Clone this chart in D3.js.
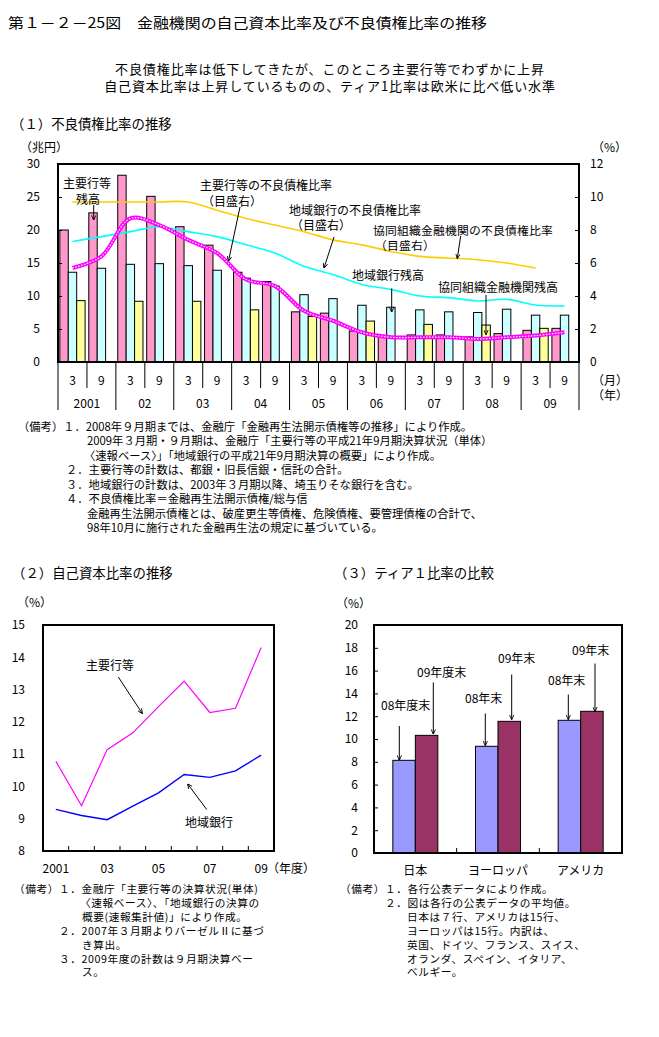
<!DOCTYPE html>
<html><head><meta charset="utf-8">
<script src="https://cdn.jsdelivr.net/npm/d3@7"></script>
<style>
body{margin:0;background:#fff;}
svg{display:block;}
text{font-family:"Noto Sans CJK JP","Noto Sans",sans-serif;fill:#000;}
</style></head><body>
<svg id="c" width="659" height="1037"></svg>
<script>
// ---------- DATA ----------
// (1) NPL
const periods = ['01/3','01/9','02/3','02/9','03/3','03/9','04/3','04/9','05/3','05/9','06/3','06/9','07/3','07/9','08/3','08/9','09/3','09/9'];
const periodMonths = ['3','9','3','9','3','9','3','9','3','9','3','9','3','9','3','9','3','9'];
const periodYears = ['2001','02','03','04','05','06','07','08','09'];
const majorBalance = [20.0,22.6,28.3,25.1,20.5,17.7,13.6,12.2,7.6,7.4,4.7,3.9,4.1,4.1,3.8,4.3,4.8,5.1];
const regionalBalance = [13.6,14.2,14.8,14.9,14.6,13.9,12.7,11.5,10.2,9.6,8.6,8.3,7.9,7.6,7.5,8.0,7.1,7.1];
const coopBalance = [9.3,0,9.2,0,9.2,0,7.9,0,6.9,0,6.2,0,5.7,0,5.6,0,5.1,0];
const majorRatio = [5.7,6.4,8.7,8.3,7.4,6.6,5.0,4.6,3.1,2.5,1.8,1.5,1.5,1.5,1.4,1.5,1.6,1.8];
const regionalRatio = [7.3,7.6,7.9,8.2,7.9,7.6,7.1,6.6,5.8,5.3,4.7,4.4,4.0,3.9,3.7,3.8,3.45,3.4];
const coopRatio = [9.7,9.7,9.7,9.7,9.7,9.2,8.7,8.3,7.9,7.4,7.1,6.7,6.4,6.3,6.2,6.0,5.7,null];
const leftTicks = [0,5,10,15,20,25,30];
const rightTicks = [0,2,4,6,8,10,12];

// (2) capital ratio
const capYears = ['2001','2002','2003','2004','2005','2006','2007','2008','2009'];
const capYearLabels = ['2001','','03','','05','','07','','09'];
const capMajor = [10.78,9.40,11.14,11.66,12.47,13.26,12.29,12.42,14.30];
const capRegional = [9.29,9.10,8.97,9.39,9.80,10.37,10.28,10.48,10.97];
const capTicks = [8,9,10,11,12,13,14,15];

// (3) tier 1
const regions = ['日本','ヨーロッパ','アメリカ'];
const tier1_08 = [8.13,9.36,11.64];
const tier1_09 = [10.32,11.55,12.43];
const tierTicks = [0,2,4,6,8,10,12,14,16,18,20];

// ---------- DRAW ----------
const svg = d3.select('#c');
const defs = svg.append('defs');
defs.append('marker').attr('id','arr').attr('viewBox','0 0 8 8').attr('refX',7.5).attr('refY',4)
  .attr('markerWidth',5).attr('markerHeight',5).attr('orient','auto').attr('markerUnits','userSpaceOnUse')
  .append('path').attr('d','M0,0.5 L8,4 L0,7.5').attr('fill','none').attr('stroke','#000').attr('stroke-width',1.4);

function txt(x,y,s,size,anchor,len){
  const t = svg.append('text').attr('x',x).attr('y',y).attr('font-size',size).attr('text-anchor',anchor||'start').text(s);
  if(len) t.attr('textLength',len).attr('lengthAdjust','spacingAndGlyphs');
  return t;
}
// multi-line block: lines = [[x, string], ...]
function block(y0,lh,lines,size,anchor,ls){
  const t = svg.append('text').attr('y',y0).attr('font-size',size).attr('text-anchor',anchor||'start');
  if(ls) t.attr('letter-spacing',ls);
  lines.forEach((l,i)=>{
    t.append('tspan').attr('x',l[0]).attr('y',y0+i*lh).text(l[1]);
  });
  return t;
}
function arrow(x1,y1,x2,y2){
  svg.append('line').attr('x1',x1).attr('y1',y1).attr('x2',x2).attr('y2',y2)
    .attr('stroke','#000').attr('stroke-width',1).attr('marker-end','url(#arr)');
}

// Titles
txt(8,28,'第１－２－25図　金融機関の自己資本比率及び不良債権比率の推移',14,'start',479);
block(74,17,[[330,'不良債権比率は低下してきたが、このところ主要行等でわずかに上昇'],[330,'自己資本比率は上昇しているものの、ティア1比率は欧米に比べ低い水準']],13,'middle',0.9);
txt(11,129,'（１）不良債権比率の推移',13.4);

// ===== Chart 1 =====
const X0=58, X1=579, YT=164, YB=362;
const xP = d3.scaleBand().domain(periods).range([X0,X1]);
const bw = xP.bandwidth();
const xS = d3.scaleBand().domain(['major','regional','coop']).range([0,bw]).paddingOuter(0.22);
const yL = d3.scaleLinear().domain([0,30]).range([YB,YT]);
const yR = d3.scaleLinear().domain([0,12]).range([YB,YT]);

const g1 = svg.append('g');
const barSeries = [
  {key:'major', data:majorBalance, color:'#FF99CC'},
  {key:'regional', data:regionalBalance, color:'#CCFFFF'},
  {key:'coop', data:coopBalance, color:'#FFFF99'}
];
barSeries.forEach(s=>{
  g1.selectAll(null).data(s.data).enter().append('rect')
    .attr('x',(d,i)=>xP(periods[i])+xS(s.key))
    .attr('y',d=>yL(d))
    .attr('width',xS.bandwidth())
    .attr('height',d=>yL(0)-yL(d))
    .attr('fill',s.color).attr('stroke','#000').attr('stroke-width',1);
});

const lineR = d3.line().defined(d=>d!=null)
  .x((d,i)=>xP(periods[i])+bw/2).y(d=>yR(d)).curve(d3.curveCatmullRom.alpha(0.5));
g1.append('path').attr('d',lineR(coopRatio)).attr('fill','none').attr('stroke','#FFCC00').attr('stroke-width',1.6);
g1.append('path').attr('d',lineR(regionalRatio)).attr('fill','none').attr('stroke','#00FFFF').attr('stroke-width',1.6);
g1.append('path').attr('d',lineR(majorRatio)).attr('fill','none').attr('stroke','#FF00FF').attr('stroke-width',4);
g1.append('path').attr('d',lineR(majorRatio)).attr('fill','none').attr('stroke','#fff').attr('stroke-width',1.2).attr('stroke-dasharray','1.5 1.5');

// axes
const axL = svg.append('g').attr('transform',`translate(${X0},0)`)
  .call(d3.axisLeft(yL).tickValues(leftTicks).tickSize(-4).tickPadding(18));
const axR = svg.append('g').attr('transform',`translate(${X1},0)`)
  .call(d3.axisRight(yR).tickValues(rightTicks).tickSize(-4).tickPadding(11));
[axL,axR].forEach(a=>{
  a.select('.domain').remove();
  a.selectAll('text').attr('font-size',12).attr('font-family','Noto Sans CJK JP').attr('fill','#000');
  a.selectAll('line').attr('stroke','#000');
});
svg.append('rect').attr('x',X0).attr('y',YT).attr('width',X1-X0).attr('height',YB-YT)
  .attr('fill','none').attr('stroke','#000').attr('stroke-width',2);

// category axis
for(let i=0;i<=periods.length;i++){
  const x = i<periods.length ? xP(periods[i]) : X1;
  svg.append('line').attr('x1',x).attr('x2',x).attr('y1',YB).attr('y2',i%2===0?410:388)
    .attr('stroke','#000').attr('stroke-width',1);
}
periodMonths.forEach((m,i)=>txt(xP(periods[i])+bw/2,385,m,12,'middle'));
periodYears.forEach((y,k)=>txt(xP(periods[2*k])+bw,408,y,12,'middle'));
txt(20,152,'（兆円）',12);
txt(592,152,'（%）',12);
block(385,15,[[592,'（月）'],[592,'（年）']],12);

// annotations chart 1
block(188,16,[[87,'主要行等'],[88,'残高']],12,'middle');
arrow(93.7,205,93.7,220);
block(190,16,[[200,'主要行等の不良債権比率'],[202,'（目盛右）']],12);
arrow(240,207,228.5,261);
block(215,15,[[289,'地域銀行の不良債権比率'],[291,'（目盛右）']],12);
arrow(334,237,324,268);
block(234.5,15,[[373,'協同組織金融機関の不良債権比率'],[375,'（目盛右）']],11.8,'start',0.2);
arrow(460.7,236,457.3,258.5);
txt(352,280,'地域銀行残高',12);
arrow(391.7,288.5,391.7,312);
txt(438,291.5,'協同組織金融機関残高',12);
arrow(486,295,486,334.5);

// notes 1
block(431,14.45,[
  [18,'（備考）１．2008年９月期までは、金融庁「金融再生法開示債権等の推移」により作成。'],
  [87,'2009年３月期・９月期は、金融庁「主要行等の平成21年9月期決算状況（単体）'],
  [84,'〈速報ベース〉」「地域銀行の平成21年9月期決算の概要」により作成。'],
  [66,'２．主要行等の計数は、都銀・旧長信銀・信託の合計。'],
  [66,'３．地域銀行の計数は、2003年３月期以降、埼玉りそな銀行を含む。'],
  [66,'４．不良債権比率＝金融再生法開示債権/総与信'],
  [87,'金融再生法開示債権とは、破産更生等債権、危険債権、要管理債権の合計で、'],
  [87,'98年10月に施行された金融再生法の規定に基づいている。']
],11.3);

// ===== Chart 2 =====
txt(12,578,'（２）自己資本比率の推移',13.4);
txt(17,607,'（%）',12);
const BX0=43, BX1=274, BYT=625, BYB=851;
const xB = d3.scaleBand().domain(capYears).range([BX0,BX1]);
const yB = d3.scaleLinear().domain([8,15]).range([BYB,BYT]);
const axB = svg.append('g').attr('transform',`translate(${BX0},0)`)
  .call(d3.axisLeft(yB).tickValues(capTicks).tickFormat(d3.format('d')).tickSize(0).tickPadding(18));
axB.select('.domain').remove();
axB.selectAll('text').attr('font-size',12).attr('font-family','Noto Sans CJK JP').attr('fill','#000');
capYears.forEach((y,i)=>{
  if(i>0) svg.append('line').attr('x1',xB(y)).attr('x2',xB(y)).attr('y1',BYB).attr('y2',BYB-5).attr('stroke','#000');
  if(capYearLabels[i]) txt(xB(y)+xB.bandwidth()/2,873,capYearLabels[i],12,'middle');
});
txt(267,873,'（年度）',12);
const lineB = d3.line().x((d,i)=>xB(capYears[i])+xB.bandwidth()/2).y(d=>yB(d));
svg.append('path').attr('d',lineB(capMajor)).attr('fill','none').attr('stroke','#FF00FF').attr('stroke-width',1.2);
svg.append('path').attr('d',lineB(capRegional)).attr('fill','none').attr('stroke','#0000FF').attr('stroke-width',1.4);
svg.append('rect').attr('x',BX0).attr('y',BYT).attr('width',BX1-BX0).attr('height',BYB-BYT)
  .attr('fill','none').attr('stroke','#000').attr('stroke-width',2);
txt(86,670,'主要行等',12);
arrow(118.3,677,142.3,713.5);
txt(185,827,'地域銀行',12);
arrow(206.7,809.5,187.7,784);

// notes 2
block(893,13.9,[
  [14,'（備考）１．金融庁「主要行等の決算状況(単体)'],
  [80,'〈速報ベース〉、「地域銀行の決算の'],
  [82,'概要(速報集計値)」により作成。'],
  [59,'２．2007年３月期よりバーゼルⅡに基づ'],
  [82,'き算出。'],
  [59,'３．2009年度の計数は９月期決算ベー'],
  [82,'ス。']
],10.7,'start',0.55);

// ===== Chart 3 =====
txt(334,578,'（３）ティア１比率の比較',13.4);
txt(336,608,'（%）',12);
const CX0=374, CX1=622, CYT=625, CYB=853;
const xC = d3.scaleBand().domain(regions).range([CX0,CX1]);
const xI = d3.scaleBand().domain(['08','09']).range([0,xC.bandwidth()]).paddingOuter(0.837);
const yC = d3.scaleLinear().domain([0,20]).range([CYB,CYT]);
const tierSeries = [{k:'08',data:tier1_08,color:'#9999FF'},{k:'09',data:tier1_09,color:'#993366'}];
tierSeries.forEach(s=>{
  svg.selectAll(null).data(s.data).enter().append('rect')
    .attr('x',(d,i)=>xC(regions[i])+xI(s.k)).attr('y',d=>yC(d))
    .attr('width',xI.bandwidth()).attr('height',d=>yC(0)-yC(d))
    .attr('fill',s.color).attr('stroke','#000').attr('stroke-width',1);
});
const axC = svg.append('g').attr('transform',`translate(${CX0},0)`)
  .call(d3.axisLeft(yC).tickValues(tierTicks).tickSize(-4).tickPadding(16));
axC.select('.domain').remove();
axC.selectAll('text').attr('font-size',12).attr('font-family','Noto Sans CJK JP').attr('fill','#000');
axC.selectAll('line').attr('stroke','#000');
regions.forEach((r,i)=>{
  if(i>0) svg.append('line').attr('x1',xC(r)).attr('x2',xC(r)).attr('y1',CYB).attr('y2',CYB-5).attr('stroke','#000');
  txt(xC(r)+xC.bandwidth()/2,875,r,12,'middle');
});
svg.append('rect').attr('x',CX0).attr('y',CYT).attr('width',CX1-CX0).attr('height',CYB-CYT)
  .attr('fill','none').attr('stroke','#000').attr('stroke-width',2);
txt(381,710,'08年度末',12);
arrow(399.3,726,399.3,760);
txt(417,677,'09年度末',12);
arrow(433.3,682.5,433.3,734);
txt(465,703,'08年末',12);
arrow(485.3,713.5,485.3,745.5);
txt(498,663,'09年末',12);
arrow(511.7,674.5,511.7,719.5);
txt(548,685,'08年末',12);
arrow(568.3,694.5,568.3,719.5);
txt(572,655,'09年末',12);
arrow(595,663.5,595,711.5);

// notes 3
block(893,13.9,[
  [340,'（備考）１．各行公表データにより作成。'],
  [385,'２．図は各行の公表データの平均値。'],
  [407,'日本は７行、アメリカは15行、'],
  [407,'ヨーロッパは15行。内訳は、'],
  [407,'英国、ドイツ、フランス、スイス、'],
  [407,'オランダ、スペイン、イタリア、'],
  [407,'ベルギー。']
],10.7,'start',0.55);
</script>
</body></html>
